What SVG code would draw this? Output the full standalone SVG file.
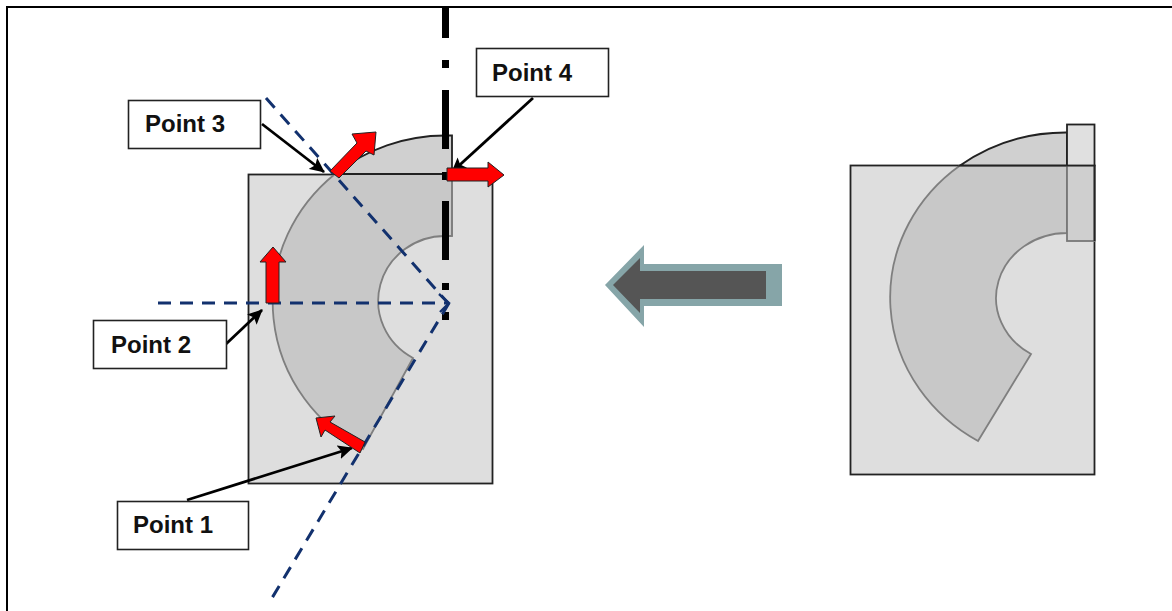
<svg xmlns="http://www.w3.org/2000/svg" width="1172" height="611" viewBox="0 0 1172 611">
<style>
.sq{fill:#dedede;stroke:#222;stroke-width:1.800}
.ring{fill:#c8c8c8;stroke:#7f7f7f;stroke-width:1.800}
.top{fill:#d0d0d0;stroke:#222;stroke-width:1.800}
.dash{fill:none;stroke:#12316e;stroke-width:3;stroke-dasharray:13 9}
.red{fill:#ff0000;stroke:#222;stroke-width:1}
.lbl{fill:#fff;stroke:#222;stroke-width:1.600}
.txt{font:bold 24px "Liberation Sans",Arial,sans-serif;fill:#111}
.lead{fill:none;stroke:#000;stroke-width:2.800;marker-end:url(#ah)}
</style>
<defs>
<marker id="ah" markerUnits="userSpaceOnUse" markerWidth="16" markerHeight="14" refX="14" refY="7" orient="auto"><path d="M0 0L15 7L0 14L3 7Z" fill="#000"/></marker>
</defs>
<rect id="frame" x="7" y="7" width="1170" height="610" fill="#fff" stroke="#000" stroke-width="2"/>
<g id="left-part">
<rect class="sq" x="248.500" y="174.500" width="244" height="309"/>
<path class="ring" d="M363 449A173 167 0 0 1 335 174L452 174V236H446A67 65 0 0 0 413 358Z"/>
<path class="top" d="M335 174A173 167 0 0 1 446 135.500H452V174Z"/>
<path d="M452 174V236" fill="none" stroke="#7f7f7f" stroke-width="1.800"/>
</g>
<g id="right-part">
<rect class="sq" x="850.500" y="165.500" width="244" height="309"/>
<path class="ring" d="M978 441A177 166 0 0 1 960 165.500H1067V233A71 65 0 0 0 1031 354Z"/>
<path class="top" d="M960 165.500A177 166 0 0 1 1067 132.500V165.500Z"/>
<rect x="1067" y="165.500" width="27.500" height="75.500" fill="#cfcfcf" stroke="#777" stroke-width="1.800"/>
<rect x="1067" y="124.500" width="27.500" height="41" fill="#e0e0e0" stroke="#222" stroke-width="1.800"/>
<path d="M1094.500 165V241" stroke="#222" stroke-width="1.800"/>
</g>
<g id="centre-line"><path d="M445.500 7V320" fill="none" stroke="#000" stroke-width="7" stroke-dasharray="31 22 8 22 59 23 8 21 59 23 7 22 8"/></g>
<g id="connectors">
<path class="dash" d="M266 98L448 303"/>
<path class="dash" d="M158 303H448"/>
<path class="dash" d="M449 303L272 598"/>
<path d="M439 294L449 303L440 312" fill="none" stroke="#12316e" stroke-width="2.400"/>
<path class="lead" d="M262 124L324 172"/>
<path class="lead" d="M533 98L452 172"/>
<path class="lead" d="M226 344L262 310"/>
<path class="lead" d="M187 500L352 448"/>
</g>
<g id="arrows">
<path class="red" d="M330 171L357 143L352 134L376 132L374 155L366 151L339 178Z"/>
<path class="red" d="M447 168H488V162L504 175L488 187V181H447Z"/>
<path class="red" d="M266 303V262H260L273 247L286 262H279V303Z"/>
<path class="red" d="M365 442L330 422L335 416L316 418L321 437L325 430L360 453Z"/>
<path d="M782 264H644V245L605 285L644 327V306H782Z" fill="#86a5a8"/>
<path d="M766 271H640V258L613 285L640 313V299H766Z" fill="#555"/>
</g>
<g id="point-3"><rect class="lbl" x="128.500" y="100.500" width="132" height="48"/><text class="txt" x="145" y="132">Point 3</text></g>
<g id="point-4"><rect class="lbl" x="476.500" y="48.500" width="132" height="48"/><text class="txt" x="492" y="81">Point 4</text></g>
<g id="point-2"><rect class="lbl" x="93.500" y="320.500" width="133" height="48"/><text class="txt" x="111" y="353">Point 2</text></g>
<g id="point-1"><rect class="lbl" x="117.500" y="501.500" width="131" height="48"/><text class="txt" x="133" y="533">Point 1</text></g>
</svg>
